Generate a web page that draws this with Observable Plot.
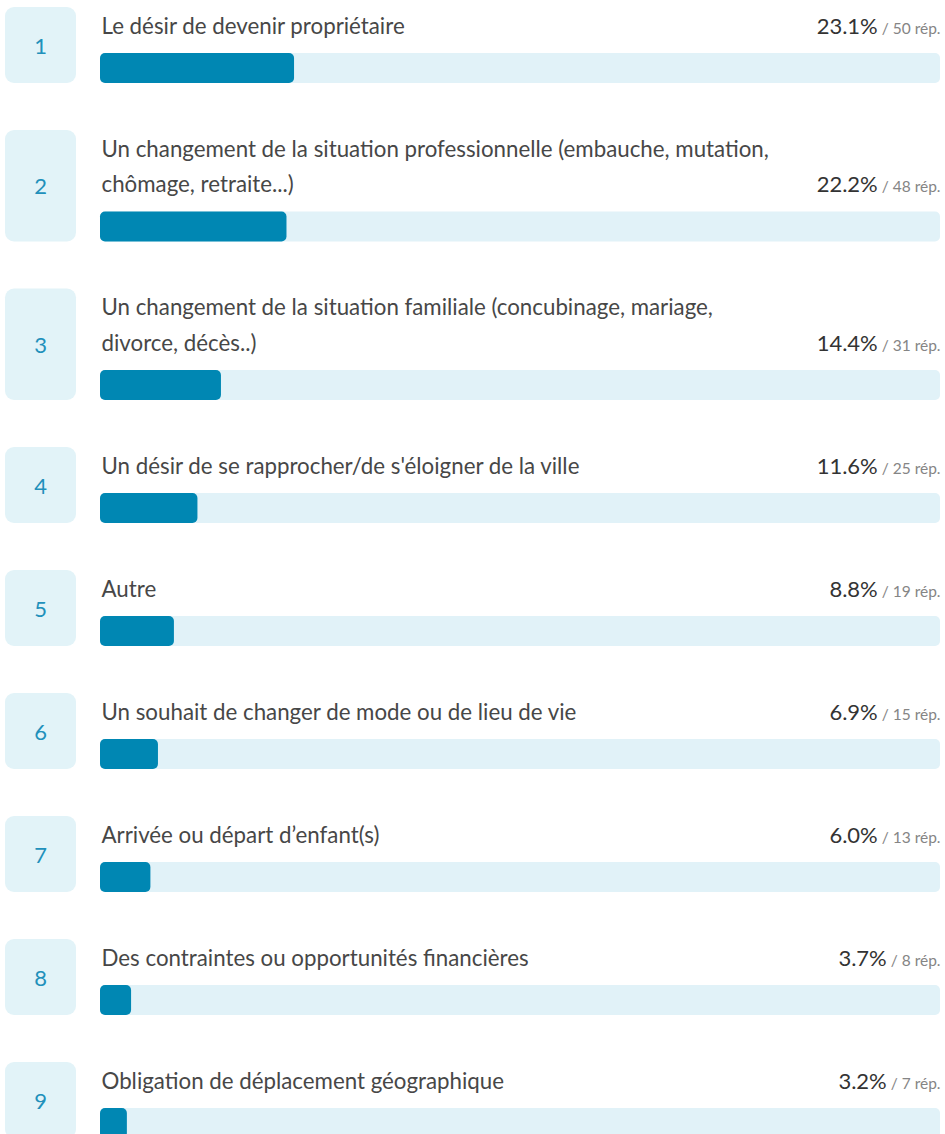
<!DOCTYPE html>
<html>
<head>
<meta charset="utf-8">
<script src="https://cdn.jsdelivr.net/npm/d3@7"></script>
<script src="https://cdn.jsdelivr.net/npm/@observablehq/plot@0.6"></script>
<style>
  html, body { margin: 0; padding: 0; background: #fff; }
  #chart svg { display: block; }
</style>
</head>
<body>
<div id="chart"></div>
<script>
// ---- data ----
const ranks = [1, 2, 3, 4, 5, 6, 7, 8, 9];
const labels = [
  "Le désir de devenir propriétaire",
  "Un changement de la situation professionnelle (embauche, mutation,\nchômage, retraite...)",
  "Un changement de la situation familiale (concubinage, mariage,\ndivorce, décès..)",
  "Un désir de se rapprocher/de s'éloigner de la ville",
  "Autre",
  "Un souhait de changer de mode ou de lieu de vie",
  "Arrivée ou départ d’enfant(s)",
  "Des contraintes ou opportunités financières",
  "Obligation de déplacement géographique"
];
const percents = [23.1, 22.2, 14.4, 11.6, 8.8, 6.9, 6.0, 3.7, 3.2];
const responses = [50, 48, 31, 25, 19, 15, 13, 8, 7];

// ---- layout (derived in code) ----
const W = 945, H = 1134;
const FONT = "Lato";
const LABEL_SIZE = 22.3;
const LINE = 35.5;     // extra height per additional label line
const rows = [];
let rowTop = 7;
ranks.forEach((r, i) => {
  const nLines = labels[i].split("\n").length;
  const extra = LINE * (nLines - 1);
  rows.push({
    rank: r,
    label: labels[i],
    pct: percents[i],
    n: responses[i],
    top: rowTop,
    boxBottom: rowTop + 76 + extra,
    boxMid: rowTop + (76 + extra) / 2,
    barTop: rowTop + 46 + extra,
    barBottom: rowTop + 76 + extra,
    lastBase: rowTop + 26 + extra
  });
  rowTop += 123 + extra;
});

const chart = Plot.plot({
  width: W,
  height: H,
  marginLeft: 100,
  marginRight: 5,
  marginTop: 0,
  marginBottom: 0,
  style: {fontFamily: FONT, background: "#fff"},
  x: {domain: [0, 100], axis: null},
  y: {type: "identity", axis: null},
  marks: [
    // rank boxes
    Plot.rect(rows, {x1: 0, x2: 0, y1: "top", y2: "boxBottom", insetLeft: -95, insetRight: 24, fill: "#e2f3f8", rx: 9}),
    Plot.text(rows, {x: 0, y: "boxMid", text: d => String(d.rank), dx: -60, dy: 1, fill: "#2190bb", fontSize: 22, textAnchor: "middle", fontFamily: FONT}),
    // track
    Plot.rect(rows, {x1: 0, x2: 100, y1: "barTop", y2: "barBottom", fill: "#e1f2f8", rx: 5}),
    // value bar
    Plot.rect(rows, {x1: 0, x2: "pct", y1: "barTop", y2: "barBottom", fill: "#0087b3", rx: 5}),
    // labels
    Plot.text(rows, {x: 0, y: "lastBase", text: "label", textAnchor: "start", lineAnchor: "bottom", lineHeight: LINE / LABEL_SIZE, dx: 1, fill: "#474747", fontSize: LABEL_SIZE, fontFamily: FONT}),
    // percentages
    Plot.text(rows, {x: 100, y: "lastBase", text: d => d.pct.toFixed(1) + "%", textAnchor: "end", lineAnchor: "bottom", fill: "#333", fontSize: 22, fontFamily: FONT})
  ]
});

// append the smaller "/ n rép." part to each percentage text
d3.select(chart).selectAll("text").filter(function () {
  return /%$/.test(this.textContent);
}).each(function (_, j) {
  const d = rows[j];
  d3.select(this).append("tspan")
    .attr("font-size", 15.5)
    .attr("fill", "#858585")
    .text("\u00a0/ " + d.n + " rép.");
});

document.getElementById("chart").appendChild(chart);
</script>
</body>
</html>
